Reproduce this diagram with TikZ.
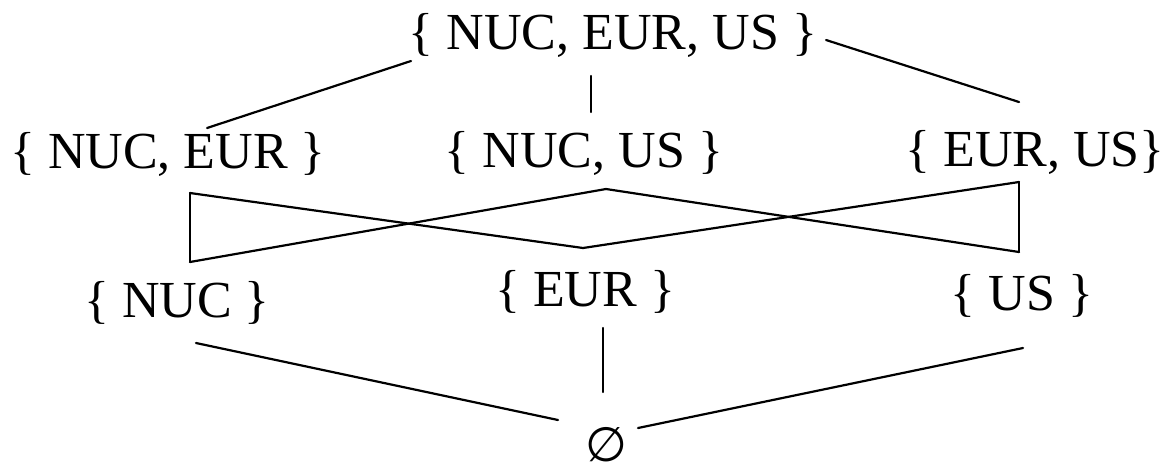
\documentclass[tikz,border=0pt]{standalone}
\usepackage{fontspec}
\setmainfont{Liberation Serif}
\newfontfamily\symfont{DejaVu Sans}
\begin{document}
\begin{tikzpicture}[x=0.5pt,y=-0.5pt,
  lbl/.style={inner sep=0pt,anchor=base,font=\fontsize{26pt}{30pt}\selectfont},
  edge/.style={line width=1.1pt,line cap=round,line join=miter}]
\useasboundingbox (0,0) rectangle (1165,472);
% nodes
\node[lbl] (T) at (613,49) {\{ NUC, EUR, US \}};
\node[lbl] (A) at (168,168) {\{ NUC, EUR \}};
\node[lbl] (B) at (584,167) {\{ NUC, US \}};
\node[lbl] (C) at (1035,166) {\{ EUR, US\}};
\node[lbl] (D) at (177,317) {\{ NUC \}};
\node[lbl] (E) at (585,306) {\{ EUR \}};
\node[lbl] (F) at (1022,310) {\{ US \}};
\node[inner sep=0pt,font=\symfont\fontsize{24pt}{28pt}\selectfont] (Z) at (606,445) {∅};
% connector end points
\coordinate (Tl) at (411,61);
\coordinate (Tm) at (591,76);
\coordinate (Tr) at (826,40);
\coordinate (At) at (207,128);
\coordinate (Bt) at (591,112);
\coordinate (Ct) at (1019,102);
\coordinate (Ab) at (190,193);
\coordinate (Bb) at (606,189);
\coordinate (Cb) at (1019,182);
\coordinate (Dt) at (190,262);
\coordinate (Et) at (583,248);
\coordinate (Ft) at (1019,252);
\coordinate (Db) at (196,343);
\coordinate (Eb) at (603,328);
\coordinate (Fb) at (1023,348);
\coordinate (Zl) at (558,420);
\coordinate (Zm) at (603,392);
\coordinate (Zr) at (638,428);
% connectors
\draw[edge] (Tl) -- (At);
\draw[edge] (Tm) -- (Bt);
\draw[edge] (Tr) -- (Ct);
\draw[edge] (Ab) -- (Dt);
\draw[edge] (Ab) -- (Et);
\draw[edge] (Bb) -- (Dt);
\draw[edge] (Bb) -- (Ft);
\draw[edge] (Cb) -- (Et);
\draw[edge] (Cb) -- (Ft);
\draw[edge] (Db) -- (Zl);
\draw[edge] (Eb) -- (Zm);
\draw[edge] (Fb) -- (Zr);
\end{tikzpicture}
\end{document}
